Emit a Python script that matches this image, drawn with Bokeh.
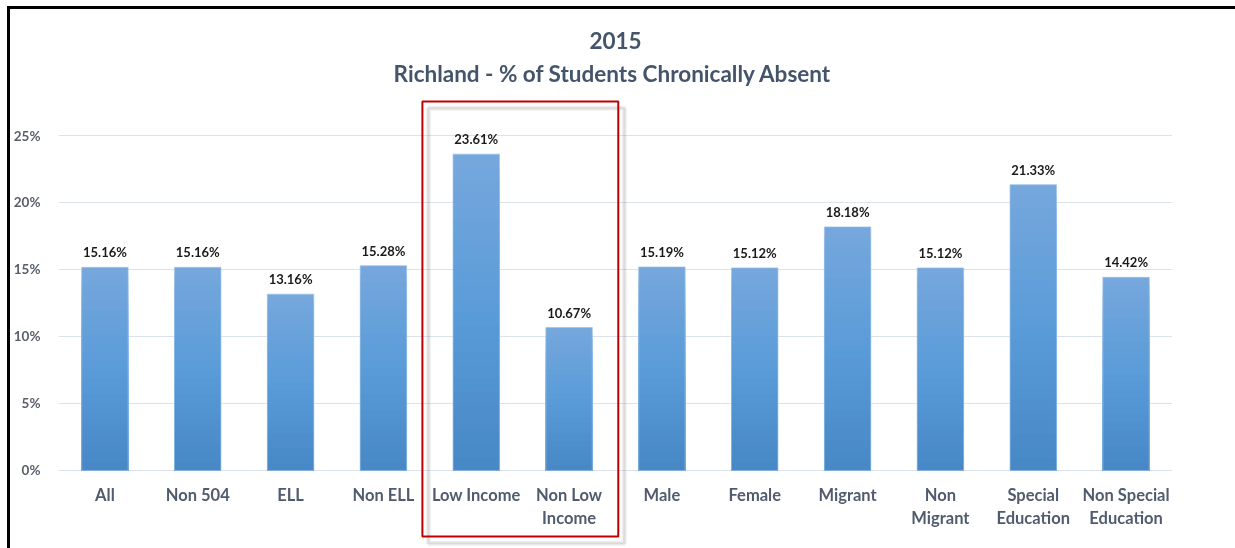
from bokeh.plotting import figure
from bokeh.models import ColumnDataSource, FactorRange, Range1d, FixedTicker, Title, PrintfTickFormatter
from bokeh.core.properties import value
from bokeh.embed import file_html
from bokeh.resources import INLINE

categories = ["All", "Non 504", "ELL", "Non ELL", "Low Income", "Non Low Income",
              "Male", "Female", "Migrant", "Non Migrant", "Special Education", "Non Special Education"]
axis_labels = ["All", "Non 504", "ELL", "Non ELL", "Low Income", "Non Low\nIncome",
               "Male", "Female", "Migrant", "Non\nMigrant", "Special\nEducation", "Non Special\nEducation"]
values = [15.16, 15.16, 13.16, 15.28, 23.61, 10.67, 15.19, 15.12, 18.18, 15.12, 21.33, 14.42]
y_ticks = [0, 5, 10, 15, 20, 25]
title_year = "2015"
title_main = "Richland  - % of Students Chronically Absent"
highlight = ["Low Income", "Non Low Income"]

FONT = "Lato"
TXT = "#44546A"

# vertical gradient of the bars (style): bottom, middle, top colours
GRAD = [(0x47, 0x87, 0xC5), (0x5A, 0x9B, 0xD9), (0x76, 0xA8, 0xDC)]
NSTEP = 24


def grad_color(t):
    if t <= 0.5:
        a, b, u = GRAD[0], GRAD[1], t / 0.5
    else:
        a, b, u = GRAD[1], GRAD[2], (t - 0.5) / 0.5
    return "#%02x%02x%02x" % tuple(int(round(a[i] + (b[i] - a[i]) * u)) for i in range(3))


gx, gtop, gcol = [], [], []
for k in range(NSTEP):
    frac = (NSTEP - k) / NSTEP
    for c, v in zip(categories, values):
        gx.append(c)
        gtop.append(v * frac)
        gcol.append(grad_color(frac - 0.5 / NSTEP))
gsrc = ColumnDataSource(dict(x=gx, top=gtop, color=gcol))

src = ColumnDataSource(dict(cat=categories, val=values, base=[0] * len(categories),
                            lab=["%.2f%%" % v for v in values], xl=axis_labels))

p = figure(x_range=FactorRange(*categories, range_padding=0),
           y_range=Range1d(-6.269, 28.209),
           width=1240, height=545, output_backend="svg", toolbar_location=None,
           min_border_left=48, min_border_right=78, min_border_top=83, min_border_bottom=0)
p.outline_line_color = None
p.background_fill_color = "white"
p.border_fill_color = "white"
p.styles = {"position": "fixed", "left": "10px", "top": "9px",
            "box-shadow": "-3px -3px 0px 0px #000000"}

t2 = Title(text=title_main, align="center", text_font=FONT, text_font_size="22.5px",
           text_font_style="bold", text_color=TXT, standoff=11)
t1 = Title(text=title_year, align="center", text_font=FONT, text_font_size="22.5px",
           text_font_style="bold", text_color=TXT, standoff=7)
p.title = None
p.add_layout(t2, "above")
p.add_layout(t1, "above")

p.vbar(x="x", top="top", width=0.5, source=gsrc, fill_color="color", line_color=None)
p.vbar(x="cat", top="val", width=0.5, source=src, fill_color=None,
       line_color="#9CC3EA", line_width=1, line_alpha=0.7)
p.text(x="cat", y="val", text="lab", source=src, text_align="center",
       text_baseline="bottom", y_offset=-7, text_font=value(FONT),
       text_font_size="13px", text_font_style="bold", text_color="#1a1a1a")
p.text(x="cat", y="base", text="xl", source=src, text_align="center",
       text_baseline="top", y_offset=15, text_font=value(FONT),
       text_font_size="16.5px", text_font_style="bold", text_color="#505C6E",
       text_line_height=1.15)

# highlight box around the income pair, with a soft drop shadow
i0 = categories.index(highlight[0])
i1 = categories.index(highlight[1])
bl, br = i0 - 0.08, i1 + 1.03
bt, bb = max(values[i0:i1 + 1]) + 3.93, -4.93
sdx, sdy = 0.065, -0.5
p.quad(left=[bl + sdx], right=[br + sdx], bottom=[bb + sdy], top=[bt + sdy],
       fill_color=None, line_color="#7F7F7F", line_width=5, line_alpha=0.12)
p.quad(left=[bl + sdx], right=[br + sdx], bottom=[bb + sdy], top=[bt + sdy],
       fill_color=None, line_color="#7F7F7F", line_width=2, line_alpha=0.18)
p.quad(left=[bl], right=[br], bottom=[bb], top=[bt],
       fill_color=None, line_color="#C00000", line_width=2)

p.xaxis.visible = False

p.yaxis.ticker = FixedTicker(ticks=y_ticks)
p.yaxis.formatter = PrintfTickFormatter(format="%d%%")
p.yaxis.axis_line_color = None
p.yaxis.major_tick_line_color = None
p.yaxis.minor_tick_line_color = None
p.yaxis.major_label_standoff = 12
p.yaxis.major_label_text_font = FONT
p.yaxis.major_label_text_font_size = "13.5px"
p.yaxis.major_label_text_font_style = "bold"
p.yaxis.major_label_text_color = "#595F6A"

p.xgrid.grid_line_color = None
p.ygrid.grid_line_color = "#DCE2EA"
p.ygrid.ticker = FixedTicker(ticks=y_ticks)

open("out.html", "w").write(file_html(p, INLINE))
